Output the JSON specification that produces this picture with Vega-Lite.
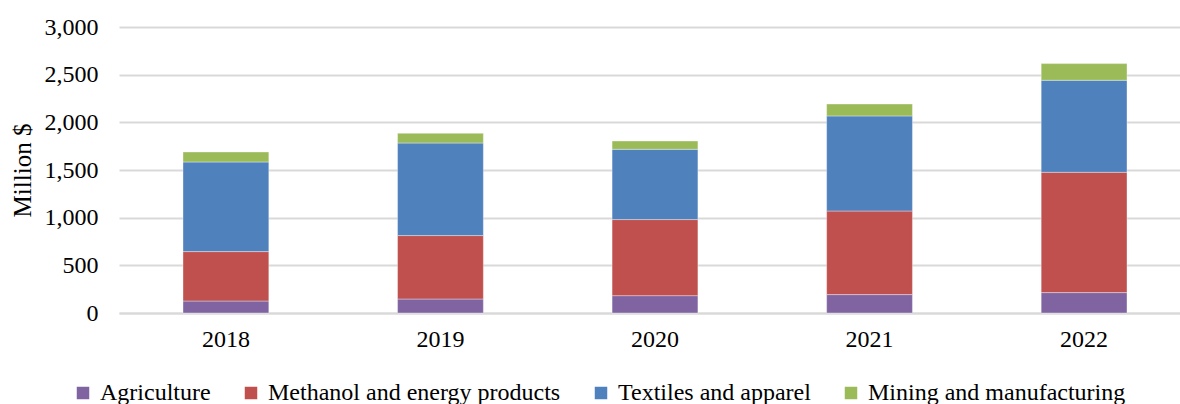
{
  "$schema": "https://vega.github.io/schema/vega-lite/v6.json",
  "width": 1061,
  "height": 286,
  "autosize": {"type": "none"},
  "padding": {"left": 119, "top": 27, "right": 0, "bottom": 91},
  "background": "white",
  "config": {
    "view": {"stroke": null},
    "font": "Times New Roman, Liberation Serif, serif",
    "axis": {"labelFont": "Times New Roman, Liberation Serif, serif", "titleFont": "Times New Roman, Liberation Serif, serif", "labelColor": "#000000", "titleColor": "#000000"},
    "legend": {"labelFont": "Times New Roman, Liberation Serif, serif", "labelColor": "#000000"}
  },
  "data": {
    "values": [
      {"year": "2018", "category": "Agriculture", "idx": 1, "value": 126},
      {"year": "2018", "category": "Methanol and energy products", "idx": 2, "value": 518},
      {"year": "2018", "category": "Textiles and apparel", "idx": 3, "value": 940},
      {"year": "2018", "category": "Mining and manufacturing", "idx": 4, "value": 105},
      {"year": "2019", "category": "Agriculture", "idx": 1, "value": 147},
      {"year": "2019", "category": "Methanol and energy products", "idx": 2, "value": 665},
      {"year": "2019", "category": "Textiles and apparel", "idx": 3, "value": 971},
      {"year": "2019", "category": "Mining and manufacturing", "idx": 4, "value": 102},
      {"year": "2020", "category": "Agriculture", "idx": 1, "value": 182},
      {"year": "2020", "category": "Methanol and energy products", "idx": 2, "value": 798},
      {"year": "2020", "category": "Textiles and apparel", "idx": 3, "value": 737},
      {"year": "2020", "category": "Mining and manufacturing", "idx": 4, "value": 87},
      {"year": "2021", "category": "Agriculture", "idx": 1, "value": 193},
      {"year": "2021", "category": "Methanol and energy products", "idx": 2, "value": 877},
      {"year": "2021", "category": "Textiles and apparel", "idx": 3, "value": 997},
      {"year": "2021", "category": "Mining and manufacturing", "idx": 4, "value": 125},
      {"year": "2022", "category": "Agriculture", "idx": 1, "value": 214},
      {"year": "2022", "category": "Methanol and energy products", "idx": 2, "value": 1262},
      {"year": "2022", "category": "Textiles and apparel", "idx": 3, "value": 965},
      {"year": "2022", "category": "Mining and manufacturing", "idx": 4, "value": 175}
    ]
  },
  "mark": {"type": "bar", "stroke": "#ffffff", "strokeWidth": 0.6, "strokeOpacity": 0.6},
  "encoding": {
    "x": {
      "field": "year",
      "type": "ordinal",
      "scale": {"paddingInner": 0.6, "paddingOuter": 0.2727, "align": 0.547},
      "axis": {
        "title": null,
        "labelAngle": 0,
        "labelFontSize": 24,
        "labelPadding": 14,
        "ticks": false,
        "domain": true,
        "domainColor": "#D9D9D9",
        "domainWidth": 2,
        "grid": false
      }
    },
    "y": {
      "field": "value",
      "type": "quantitative",
      "stack": "zero",
      "scale": {"domain": [0, 3000], "nice": false},
      "axis": {
        "title": "Million $",
        "titleFontSize": 25,
        "titleFontWeight": "normal",
        "titleAngle": -90,
        "titleX": -97,
        "titleBaseline": "middle",
        "values": [0, 500, 1000, 1500, 2000, 2500, 3000],
        "format": ",d",
        "labelFontSize": 24,
        "labelPadding": 21,
        "ticks": false,
        "domain": false,
        "grid": true,
        "gridColor": "#D9D9D9",
        "gridWidth": 2
      }
    },
    "color": {
      "field": "category",
      "type": "nominal",
      "sort": ["Agriculture", "Methanol and energy products", "Textiles and apparel", "Mining and manufacturing"],
      "scale": {
        "domain": ["Agriculture", "Methanol and energy products", "Textiles and apparel", "Mining and manufacturing"],
        "range": ["#8064A2", "#C0504D", "#4F81BD", "#9BBB59"]
      },
      "legend": {
        "title": null,
        "orient": "none",
        "direction": "horizontal",
        "legendX": -48,
        "legendY": 354,
        "symbolType": "square",
        "symbolSize": 156,
        "symbolStrokeWidth": 0,
        "labelFontSize": 24,
        "labelOffset": 5,
        "columnPadding": 28,
        "labelLimit": 400
      }
    },
    "order": {"field": "idx", "type": "quantitative", "sort": "ascending"}
  }
}
